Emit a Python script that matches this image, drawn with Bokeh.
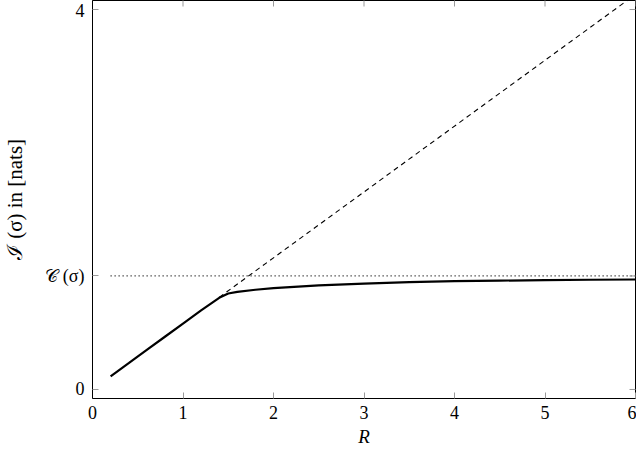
import math
from bokeh.plotting import figure
from bokeh.models import FixedTicker, Range1d
from bokeh.embed import file_html
from bokeh.resources import INLINE

# ---- data ----
R_solid = [0.2, 0.4, 0.6, 0.8, 1.0, 1.2, 1.4, 1.5, 1.6, 1.8, 2.0, 2.5, 3.0, 3.5, 4.0, 4.5, 5.0, 5.5, 6.0]
I_solid = [0.139, 0.277, 0.416, 0.555, 0.693, 0.832, 0.965, 1.010, 1.027, 1.050, 1.066, 1.095, 1.115, 1.130,
           1.140, 1.146, 1.151, 1.155, 1.158]
R_dashed = [1.4, 6.0]
I_dashed = [0.970, 4.159]
C_SIGMA = 1.195
R_dotted = [0.2, 6.0]
I_dotted = [C_SIGMA, C_SIGMA]
x_ticks = [0, 1, 2, 3, 4, 5, 6]
y_ticks = [0, C_SIGMA, 4]
y_tick_labels = {0: "0", C_SIGMA: "𝒞 (σ)", 4: "4"}

X_MIN, X_MAX = 0, 6
Y_MIN, Y_MAX = -0.095, 4.095
FONT = "Times New Roman, Liberation Serif, serif"
TICK_COLOR = "#999999"

p = figure(width=636, height=449, output_backend="svg", toolbar_location=None,
           x_range=Range1d(X_MIN, X_MAX), y_range=Range1d(Y_MIN, Y_MAX),
           min_border_left=92, min_border_right=1, min_border_top=0, min_border_bottom=10)
p.grid.visible = False
p.outline_line_color = "black"
p.outline_line_width = 1
p.background_fill_color = "white"
p.border_fill_color = "white"

p.line(R_dotted, I_dotted, line_color="black", line_width=1.2, line_dash="1 3")
p.line(R_dashed, I_dashed, line_color="black", line_width=1.1, line_dash="5 4")
p.line(R_solid, I_solid, line_color="black", line_width=2.2)

# inner ticks on the top and right frame edges (pgfplots style)
p.scatter(x=x_ticks, y=[Y_MAX] * len(x_ticks), marker="dash", size=12, angle=math.pi / 2,
          line_color=TICK_COLOR, line_width=1)
p.scatter(x=[X_MAX] * len(y_ticks), y=y_ticks, marker="dash", size=12,
          line_color=TICK_COLOR, line_width=1)

for ax, ticks in ((p.xaxis[0], x_ticks), (p.yaxis[0], y_ticks)):
    ax.ticker = FixedTicker(ticks=ticks)
    ax.axis_line_color = "black"
    ax.major_tick_in = 6
    ax.major_tick_out = 0
    ax.major_tick_line_color = TICK_COLOR
    ax.minor_tick_line_color = None
    ax.major_label_text_font = FONT
    ax.major_label_text_font_size = "18px"
    ax.major_label_text_color = "black"
    ax.axis_label_text_font = FONT
    ax.axis_label_text_font_size = "19px"
    ax.axis_label_text_font_style = "normal"
    ax.axis_label_text_color = "black"

xa = p.xaxis[0]
xa.axis_label = "R"
xa.axis_label_text_font_style = "italic"
xa.major_label_standoff = 7
xa.axis_label_standoff = 4

ya = p.yaxis[0]
ya.axis_label = "ℐ (σ) in [nats]"
ya.axis_label_text_font_size = "21px"
ya.major_label_overrides = dict(y_tick_labels)
ya.major_label_standoff = 8
ya.axis_label_standoff = 15

open("out.html", "w").write(file_html(p, INLINE))
